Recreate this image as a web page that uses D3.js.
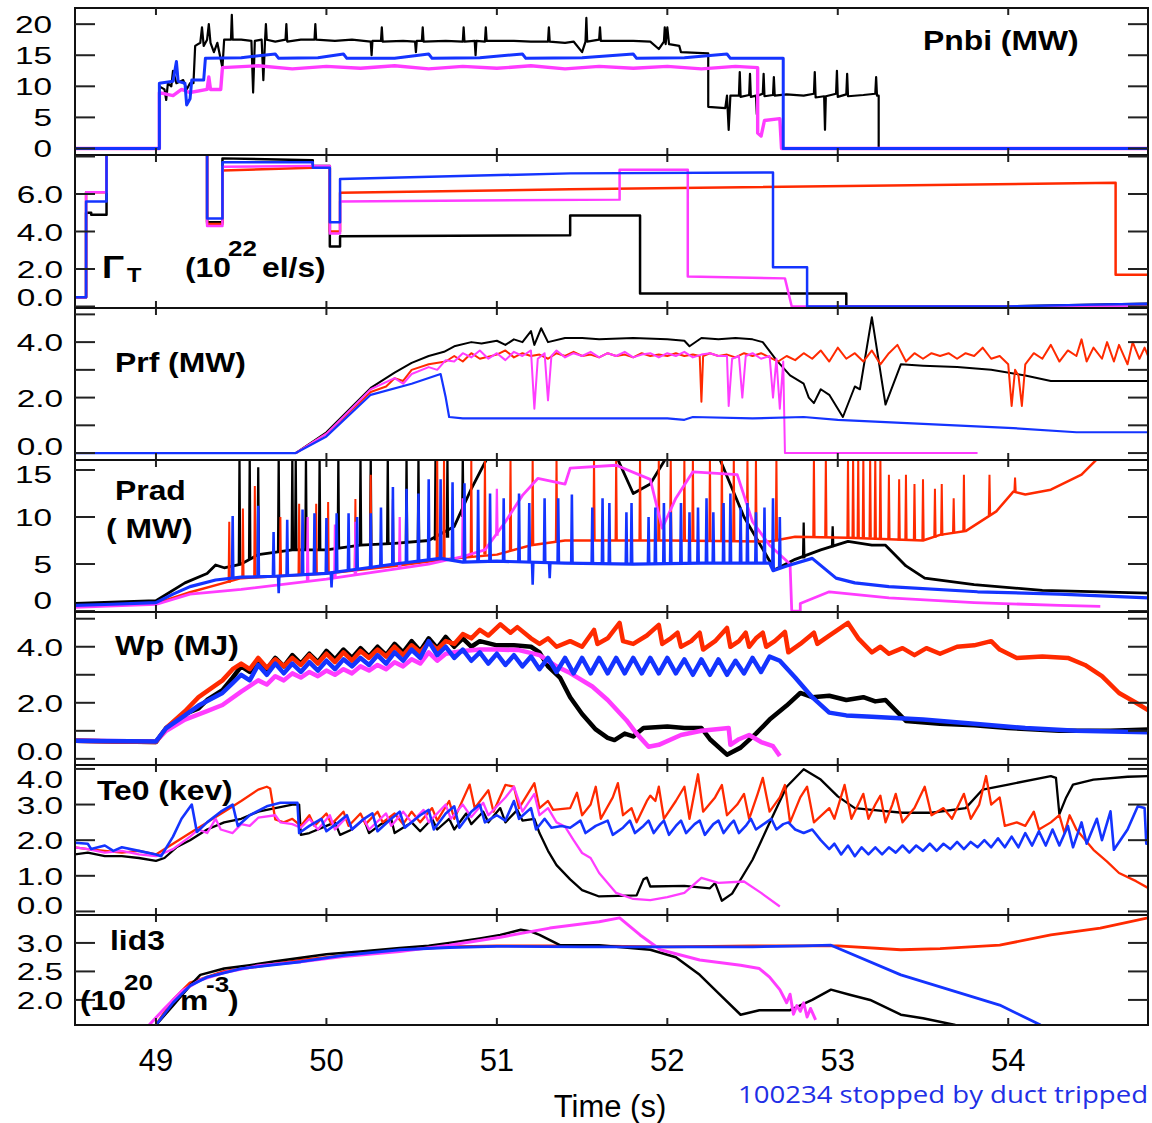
<!DOCTYPE html>
<html lang="en">
<head>
<meta charset="utf-8">
<title>Discharge comparison</title>
<script src="https://cdn.jsdelivr.net/npm/d3@7"></script>
<style>
  body { margin: 0; background: #fff; }
  text { font-family: "Liberation Sans", Arial, sans-serif; fill: #000; }
</style>
</head>
<body>
<script>
// time axis
var timeTicks = [49, 50, 51, 52, 53, 54];

// ---- Pnbi (MW)
var pnbiBlack = [[48.52,0],[49.02,0],[49.02,10],[49.05,9.5],[49.06,7.8],[49.07,10.5],[49.09,10],[49.1,12.5],[49.12,10.5],[49.16,11],[49.18,9.5],[49.2,10.5],[49.22,10.5],[49.23,16.5],[49.26,17],[49.27,19.5],[49.28,16.5],[49.3,17.5],[49.31,20],[49.32,17],[49.34,15.5],[49.36,17],[49.39,13],[49.4,17.5],[49.44,17.5],[49.445,21.5],[49.45,17.5],[49.5,17.5],[49.56,17.3],[49.57,9],[49.58,17.3],[49.62,17.5],[49.63,11],[49.64,17.5],[49.645,20],[49.65,17.5],[49.7,17.2],[49.76,17.5],[49.765,20],[49.77,17.2],[49.85,17.5],[49.93,17.5],[49.935,20],[49.94,17.5],[50.05,17.3],[50.15,17.5],[50.26,17.2],[50.265,15],[50.27,17.3],[50.32,17.3],[50.325,19.5],[50.33,17.2],[50.45,17.3],[50.52,17.2],[50.525,15.5],[50.53,17.3],[50.56,17.3],[50.565,19.5],[50.57,17.2],[50.7,17.3],[50.8,17.2],[50.805,19.5],[50.81,17.2],[50.87,17.3],[50.875,15],[50.88,17.3],[50.93,17.2],[50.935,19.5],[50.94,17.3],[51.1,17.3],[51.2,17.2],[51.3,17.2],[51.305,19.5],[51.31,17.2],[51.4,17],[51.45,17.2],[51.5,15.5],[51.52,17.2],[51.525,21],[51.53,17.2],[51.6,17.5],[51.605,19.5],[51.61,17.3],[51.7,17.3],[51.8,17.3],[51.9,17.2],[51.95,16],[51.98,17.2],[51.985,19.5],[51.99,16.8],[52.0,19.5],[52.01,16.8],[52.07,16.5],[52.08,15.5],[52.24,15.3],[52.24,6.7],[52.34,6.5],[52.35,8.5],[52.36,3],[52.37,8.5],[52.42,8.5],[52.425,12.3],[52.43,8.3],[52.48,8.6],[52.485,12],[52.49,8.3],[52.52,8.5],[52.525,5.5],[52.53,8.5],[52.56,8.8],[52.565,12],[52.57,8.4],[52.62,8.6],[52.625,11.5],[52.63,8.5],[52.7,8.7],[52.8,8.5],[52.86,8.8],[52.865,12.3],[52.87,8.2],[52.92,8.4],[52.925,3],[52.93,8.4],[52.99,8.8],[52.995,12.5],[53.0,8.3],[53.05,8.7],[53.055,12],[53.06,8.4],[53.15,8.6],[53.22,8.8],[53.225,11.5],[53.23,8.5],[53.24,8.5],[53.24,0],[54.82,0]];
var pnbiMagenta = [[48.52,0],[49.02,0],[49.02,9],[49.1,8.5],[49.15,9.5],[49.2,9],[49.3,9.5],[49.31,11.5],[49.32,9.5],[49.38,9.5],[49.39,13],[49.6,13.3],[49.8,12.8],[50.0,13.2],[50.2,12.9],[50.4,13.3],[50.6,12.8],[50.8,13.2],[51.0,12.9],[51.2,13.3],[51.4,12.8],[51.6,13.2],[51.8,12.9],[52.0,13.2],[52.2,12.8],[52.4,13.2],[52.53,13],[52.53,2.5],[52.55,2],[52.57,4.5],[52.66,4.8],[52.67,0],[54.82,0]];
var pnbiBlue = [[48.52,0],[49.02,0],[49.02,10.5],[49.1,10.8],[49.12,14],[49.13,10.8],[49.17,10.5],[49.18,7],[49.2,8],[49.21,11],[49.28,11],[49.29,14.5],[49.5,14.6],[49.7,15.2],[49.72,14.5],[49.95,14.6],[50.1,15.2],[50.12,14.5],[50.4,14.5],[50.6,15.2],[50.62,14.5],[50.9,14.6],[51.15,15.2],[51.17,14.5],[51.5,14.6],[51.8,15.2],[51.82,14.5],[52.1,14.6],[52.35,15.2],[52.37,14.5],[52.68,14.5],[52.68,0],[54.82,0]];

// ---- Gamma_T (1e22 el/s)
var gamBlack = [[48.52,0.5],[48.59,0.5],[48.59,5.0],[48.62,5.0],[48.62,4.9],[48.71,4.9],[48.71,8.6],[49.3,8.6],[49.3,4.5],[49.39,4.5],[49.39,7.9],[49.92,7.8],[49.92,7.5],[50.02,7.5],[50.02,3.2],[50.08,3.2],[50.08,3.75],[51.43,3.8],[51.43,4.85],[51.84,4.85],[51.84,0.7],[53.05,0.7],[53.05,0],[54.0,0],[54.82,0.15]];
var gamRed = [[48.52,0.5],[48.59,0.5],[48.59,6.1],[48.71,6.1],[48.71,8.6],[49.3,8.6],[49.3,4.4],[49.39,4.4],[49.39,7.25],[49.92,7.4],[50.02,7.4],[50.02,4.0],[50.08,4.0],[50.08,6.07],[51.43,6.25],[54.63,6.6],[54.63,1.7],[54.82,1.7]];
var gamMagenta = [[48.52,0.5],[48.59,0.5],[48.59,6.1],[48.71,6.1],[48.71,8.6],[49.3,8.6],[49.3,4.3],[49.39,4.3],[49.39,7.45],[49.92,7.5],[50.02,7.5],[50.02,3.9],[50.08,3.9],[50.08,5.6],[51.72,5.7],[51.72,7.3],[52.12,7.3],[52.12,1.6],[52.69,1.5],[52.73,0],[54.82,0]];
var gamBlue = [[48.52,0.5],[48.59,0.5],[48.59,5.6],[48.71,5.6],[48.71,8.6],[49.3,8.6],[49.3,4.7],[49.39,4.7],[49.39,7.7],[49.92,7.7],[49.92,7.4],[50.02,7.4],[50.02,4.5],[50.08,4.5],[50.08,6.8],[51.43,7.1],[52.62,7.15],[52.62,2.1],[52.82,2.1],[52.82,0],[54.0,0],[54.5,0.1],[54.82,0.15]];

// ---- Prf (MW)
var prfBlack = [[48.52,0],[49.82,0],[50.0,0.75],[50.26,2.35],[50.4,2.9],[50.5,3.25],[50.6,3.5],[50.69,3.65],[50.75,3.85],[50.85,4.0],[50.91,3.95],[51.0,4.05],[51.05,3.9],[51.1,4.1],[51.15,4.0],[51.2,4.4],[51.22,3.9],[51.26,4.5],[51.3,4.0],[51.4,4.15],[51.5,4.15],[51.6,4.1],[51.8,4.15],[52.0,4.1],[52.1,4.05],[52.13,3.85],[52.2,4.15],[52.3,4.1],[52.4,4.15],[52.5,4.1],[52.56,4.0],[52.64,3.35],[52.72,2.8],[52.8,2.5],[52.83,2.0],[52.86,1.8],[52.9,2.3],[52.95,2.1],[53.03,1.3],[53.1,2.4],[53.13,2.3],[53.2,4.9],[53.28,1.75],[53.37,3.2],[53.5,3.15],[53.7,3.1],[53.9,3.0],[54.1,2.8],[54.25,2.6],[54.5,2.6],[54.82,2.6]];
var prfRed = [[48.52,0],[49.82,0],[50.0,0.7],[50.26,2.2],[50.35,2.4],[50.4,2.7],[50.45,2.6],[50.5,3.0],[50.6,3.2],[50.7,3.3],[50.75,3.5],[50.8,3.3],[50.85,3.6],[50.9,3.4],[51.0,3.55],[51.05,3.7],[51.1,3.45],[51.15,3.6],[51.2,3.5],[51.25,3.55],[51.3,3.4],[51.35,3.6],[51.4,3.5],[51.45,3.65],[51.5,3.5],[51.55,3.55],[51.6,3.45],[51.65,3.6],[51.7,3.5],[51.75,3.55],[51.8,3.45],[51.85,3.6],[51.9,3.5],[51.95,3.55],[52.0,3.5],[52.05,3.6],[52.1,3.5],[52.15,3.55],[52.19,3.5],[52.2,1.85],[52.21,3.5],[52.25,3.6],[52.3,3.5],[52.35,3.55],[52.4,3.45],[52.45,3.6],[52.5,3.5],[52.55,3.6],[52.6,3.45],[52.65,3.3],[52.7,3.5],[52.75,3.35],[52.8,3.6],[52.85,3.4],[52.9,3.7],[52.95,3.3],[53.0,3.8],[53.05,3.4],[53.1,3.6],[53.15,3.3],[53.2,3.7],[53.25,3.2],[53.3,3.6],[53.35,3.9],[53.4,3.3],[53.45,3.6],[53.5,3.4],[53.55,3.6],[53.6,3.5],[53.65,3.6],[53.7,3.4],[53.75,3.6],[53.8,3.5],[53.85,3.8],[53.9,3.4],[53.95,3.5],[54.0,3.2],[54.02,1.7],[54.04,3.0],[54.06,2.8],[54.08,1.7],[54.1,3.2],[54.15,3.6],[54.2,3.4],[54.25,3.9],[54.3,3.3],[54.35,3.7],[54.4,3.5],[54.43,4.1],[54.46,3.3],[54.5,3.8],[54.55,3.4],[54.58,4.0],[54.62,3.3],[54.65,3.9],[54.7,3.2],[54.73,4.0],[54.77,3.4],[54.8,3.8],[54.82,3.5]];
var prfMagenta = [[48.52,0],[49.82,0],[50.0,0.7],[50.26,2.3],[50.4,2.7],[50.45,2.5],[50.5,2.85],[50.6,3.1],[50.65,3.0],[50.7,3.35],[50.75,3.3],[50.8,3.6],[50.85,3.45],[50.9,3.7],[50.95,3.4],[51.0,3.6],[51.05,3.35],[51.1,3.65],[51.15,3.5],[51.2,3.7],[51.22,1.6],[51.24,3.4],[51.28,3.6],[51.3,1.9],[51.32,3.5],[51.35,3.7],[51.4,3.45],[51.45,3.6],[51.5,3.5],[51.55,3.65],[51.6,3.45],[51.65,3.6],[51.7,3.5],[51.75,3.65],[51.8,3.45],[51.85,3.55],[51.9,3.6],[51.95,3.45],[52.0,3.6],[52.05,3.5],[52.1,3.65],[52.15,3.45],[52.2,3.55],[52.25,3.6],[52.3,3.5],[52.35,3.5],[52.36,1.7],[52.38,3.4],[52.42,3.5],[52.44,2.0],[52.46,3.5],[52.5,3.6],[52.55,3.4],[52.6,3.5],[52.62,2.0],[52.64,3.4],[52.66,1.6],[52.68,3.3],[52.69,0],[53.82,0]];
var prfBlue = [[48.52,0],[49.82,0],[50.0,0.6],[50.26,2.1],[50.5,2.5],[50.67,2.85],[50.7,2.0],[50.72,1.3],[50.8,1.25],[51.5,1.25],[52.0,1.25],[52.1,1.2],[52.15,1.3],[52.5,1.25],[52.8,1.3],[53.0,1.2],[53.5,1.05],[54.03,0.9],[54.4,0.75],[54.82,0.75]];

// ---- Prad (MW): baselines plus ELM spikes [t, base, peak]
var pradBlack = [[48.52,0.8],[49.0,1.1],[49.17,3.0],[49.3,4.0],[49.35,4.9],[49.4,4.6],[49.5,5.0],[49.6,6.0],[49.8,6.5],[50.0,6.5],[50.2,7.0],[50.4,7.2],[50.6,7.5],[50.75,9.0],[50.85,13],[50.95,16.5],[51.4,16.5],[51.7,16.5],[51.8,12.5],[51.9,13.5],[52.0,16.5],[52.3,16.5],[52.45,10],[52.63,4.4],[52.75,5.5],[52.9,6.5],[53.06,7.4],[53.2,7.0],[53.28,7.0],[53.4,4.8],[53.51,3.5],[53.8,2.8],[54.2,2.2],[54.82,1.9]];
var pradRed = [[48.52,0.5],[49.0,0.8],[49.2,2.0],[49.4,3.0],[49.5,3.5],[50.0,4.0],[50.4,4.8],[50.7,5.5],[51.0,6.0],[51.2,7.0],[51.4,7.5],[52.0,7.5],[52.6,7.4],[52.75,7.9],[53.06,7.8],[53.5,7.5],[53.6,8.1],[53.75,8.5],[53.93,10.6],[54.03,12.7],[54.1,12.4],[54.25,12.9],[54.43,14.5],[54.54,16.5],[54.82,16.5]];
var pradMagenta = [[48.52,0.4],[49.0,0.7],[49.2,1.8],[49.5,2.3],[50.0,3.4],[50.3,4.2],[50.6,5.0],[50.8,5.8],[50.93,6.5],[51.05,9.5],[51.15,12.3],[51.24,14.1],[51.4,13.5],[51.43,15.2],[51.7,15.5],[51.9,14],[51.97,8.8],[52.05,12],[52.15,14.8],[52.41,14.5],[52.5,9.5],[52.6,7.0],[52.72,5.0],[52.73,0],[52.78,0],[52.78,0.8],[52.95,2.05],[53.3,1.4],[53.8,0.9],[54.3,0.6],[54.54,0.5]];
var pradBlue = [[48.52,0.6],[48.7,0.7],[49.0,0.9],[49.1,1.8],[49.2,2.6],[49.35,3.3],[49.5,3.6],[49.7,3.7],[50.0,4.0],[50.2,4.5],[50.4,5.0],[50.67,5.6],[50.8,5.2],[51.0,5.3],[51.4,5.1],[51.8,5.0],[52.2,5.1],[52.6,5.1],[52.62,4.3],[52.7,4.8],[52.85,5.6],[52.99,3.5],[53.1,3.0],[53.3,2.6],[53.82,2.05],[54.3,1.8],[54.82,1.4]];
var spikesBlack = [[49.49,5.0,16.5],[49.55,5.5,16.5],[49.6,6.0,15.3],[49.72,6.3,16.5],[49.8,6.5,16.5],[49.82,6.5,16.5],[49.88,6.5,16.5],[49.96,6.5,16.5],[50.07,6.6,16.5],[50.2,7.0,16.5],[50.26,7.0,16.5],[50.36,7.1,16.5],[50.47,7.2,16.5],[50.54,7.3,16.5],[50.64,7.5,16.5],[50.71,7.8,16.5],[50.8,10,16.5],[52.8,5.6,9.4],[52.97,6.8,9.0]];
var spikesRed = [[49.43,3.0,9.5],[49.51,3.5,10.9],[49.58,3.6,13.3],[49.73,3.7,10],[49.84,3.8,11.4],[49.94,3.9,11.4],[50.01,4.0,11.6],[50.17,4.3,11.9],[50.26,4.5,14.5],[50.39,4.8,11.9],[50.65,5.4,16.5],[50.69,5.5,16.5],[50.85,5.8,16.5],[50.93,6.0,16.5],[51.08,6.5,16.5],[51.21,7.0,16.5],[51.35,7.4,16.5],[51.57,7.5,16.5],[51.7,7.5,16.5],[51.84,7.5,16.5],[51.95,7.5,16.5],[52.02,7.5,16.5],[52.1,7.5,16.5],[52.15,7.5,16.5],[52.25,7.5,16.5],[52.32,7.5,16.5],[52.39,7.5,16.5],[52.47,7.5,16.5],[52.52,7.5,16.5],[52.64,7.4,16.5],[52.86,7.9,16.5],[52.93,7.9,16.5],[53.06,7.8,16.5],[53.09,7.8,16.5],[53.12,7.8,16.5],[53.15,7.8,16.5],[53.19,7.8,16.5],[53.22,7.7,16.5],[53.25,7.7,16.5],[53.3,7.6,14.5],[53.36,7.5,14.0],[53.4,7.5,14.5],[53.45,7.5,13.5],[53.5,7.5,14.0],[53.57,7.8,13.0],[53.61,8.0,13.5],[53.68,8.3,12.0],[53.74,8.4,14.5],[53.89,10.2,14.5],[54.04,12.7,14.2]];
var spikesMagenta = [[49.89,3.2,10],[50.05,3.4,9.2],[50.17,3.8,9.5],[50.43,4.5,10],[50.8,5.8,12],[51.0,8,13]];
var spikesBlue = [[49.45,3.4,10.1],[49.6,3.6,11.2],[49.69,3.7,8.4],[49.72,3.7,1.9],[49.77,3.8,9.7],[49.86,3.9,10.8],[49.93,4.0,10.4],[50.0,4.0,9.9],[50.03,4.0,2.5],[50.06,4.1,10.4],[50.13,4.3,10.4],[50.18,4.4,10.0],[50.26,4.5,10.4],[50.32,4.7,11.0],[50.39,4.8,13.2],[50.47,5.0,13.0],[50.54,5.2,12.5],[50.6,5.4,14.0],[50.67,5.6,14.0],[50.74,5.4,13.7],[50.81,5.2,13.6],[50.89,5.2,12.9],[50.96,5.2,12.5],[51.04,5.3,12.0],[51.13,5.3,12.5],[51.19,5.2,11.5],[51.21,5.2,2.8],[51.28,5.2,12.0],[51.31,5.2,3.5],[51.36,5.1,12.0],[51.44,5.1,12.4],[51.56,5.1,11.0],[51.62,5.0,12.0],[51.66,5.0,11.5],[51.76,5.0,10.5],[51.79,5.0,11.5],[51.89,5.0,10.0],[51.93,5.0,11.0],[51.98,5.1,11.5],[52.02,5.1,10.5],[52.08,5.1,11.5],[52.13,5.1,10.5],[52.18,5.1,11.0],[52.23,5.1,12.0],[52.27,5.1,10.5],[52.33,5.1,11.5],[52.37,5.1,12.5],[52.43,5.1,11.0],[52.47,5.1,11.5],[52.52,5.1,10.5],[52.57,5.1,11.0],[52.62,4.5,12.0],[52.66,4.7,10.0]];

// ---- Wp (MJ)
var wpBlack = [[48.52,0.65],[48.76,0.62],[49.0,0.6],[49.06,1.1],[49.17,1.6],[49.25,1.8],[49.3,2.1],[49.39,2.45],[49.45,2.9],[49.5,3.3],[49.55,3.1],[49.6,3.5],[49.65,3.2],[49.7,3.6],[49.75,3.3],[49.8,3.7],[49.85,3.4],[49.9,3.75],[49.95,3.45],[50.0,3.85],[50.05,3.55],[50.1,3.9],[50.15,3.6],[50.2,3.95],[50.25,3.65],[50.3,4.0],[50.35,3.7],[50.4,4.1],[50.45,3.8],[50.5,4.2],[50.55,3.85],[50.6,4.3],[50.65,3.95],[50.7,4.35],[50.75,4.0],[50.8,4.3],[50.85,4.0],[50.9,4.2],[51.0,4.05],[51.1,4.05],[51.2,4.0],[51.25,3.8],[51.3,3.3],[51.37,2.9],[51.43,2.2],[51.5,1.6],[51.58,1.05],[51.65,0.75],[51.69,0.67],[51.75,0.9],[51.8,0.8],[51.86,1.1],[52.0,1.15],[52.1,1.1],[52.2,1.1],[52.25,0.7],[52.35,0.15],[52.43,0.4],[52.52,0.9],[52.6,1.4],[52.7,1.9],[52.78,2.35],[52.85,2.2],[52.95,2.25],[53.05,2.1],[53.15,2.2],[53.22,2.05],[53.28,2.1],[53.4,1.35],[53.6,1.25],[53.8,1.2],[54.0,1.1],[54.3,1.0],[54.6,1.0],[54.82,1.05]];
var wpRed = [[48.52,0.65],[49.0,0.6],[49.06,1.1],[49.17,1.7],[49.25,2.2],[49.39,2.8],[49.45,3.2],[49.5,3.4],[49.55,3.2],[49.6,3.6],[49.65,3.25],[49.7,3.55],[49.75,3.3],[49.8,3.6],[49.85,3.35],[49.9,3.7],[49.95,3.4],[50.0,3.75],[50.05,3.45],[50.1,3.8],[50.15,3.5],[50.2,3.85],[50.25,3.6],[50.3,3.9],[50.35,3.65],[50.4,4.0],[50.45,3.7],[50.5,4.05],[50.55,3.8],[50.6,4.15],[50.65,3.9],[50.7,4.2],[50.75,4.1],[50.8,4.45],[50.85,4.3],[50.9,4.6],[50.95,4.4],[51.02,4.8],[51.08,4.5],[51.12,4.7],[51.2,4.3],[51.25,4.1],[51.3,4.3],[51.35,4.0],[51.43,4.2],[51.5,4.0],[51.57,4.6],[51.59,4.1],[51.65,4.3],[51.72,4.85],[51.74,4.2],[51.8,4.1],[51.88,4.4],[51.95,4.78],[51.97,4.1],[52.02,4.3],[52.06,4.5],[52.08,4.0],[52.14,4.2],[52.19,4.5],[52.21,3.9],[52.28,4.2],[52.35,4.67],[52.37,4.0],[52.42,4.2],[52.46,4.5],[52.48,4.0],[52.52,4.3],[52.56,4.5],[52.58,4.0],[52.63,4.2],[52.69,4.53],[52.71,3.8],[52.78,4.1],[52.86,4.5],[52.88,4.1],[52.95,4.4],[53.06,4.85],[53.12,4.3],[53.2,3.8],[53.25,4.0],[53.3,3.75],[53.38,3.95],[53.45,3.7],[53.52,3.95],[53.6,3.75],[53.7,4.0],[53.8,4.05],[53.9,4.2],[53.95,3.9],[54.05,3.6],[54.2,3.65],[54.35,3.6],[54.45,3.35],[54.55,2.95],[54.65,2.35],[54.75,2.0],[54.82,1.74]];
var wpMagenta = [[48.52,0.65],[49.0,0.62],[49.06,1.0],[49.17,1.4],[49.3,1.7],[49.39,1.92],[49.5,2.4],[49.6,2.8],[49.65,2.65],[49.7,2.95],[49.75,2.8],[49.8,3.05],[49.85,2.9],[49.9,3.1],[49.95,2.95],[50.0,3.15],[50.05,3.0],[50.1,3.2],[50.15,3.05],[50.2,3.3],[50.25,3.15],[50.3,3.35],[50.35,3.2],[50.4,3.45],[50.45,3.3],[50.5,3.55],[50.55,3.4],[50.6,3.8],[50.65,3.5],[50.7,3.75],[50.8,3.85],[50.9,3.9],[51.0,3.9],[51.13,3.88],[51.25,3.7],[51.35,3.3],[51.43,3.06],[51.56,2.58],[51.65,2.1],[51.76,1.38],[51.82,0.9],[51.89,0.43],[51.95,0.5],[52.08,0.85],[52.2,1.0],[52.36,1.1],[52.37,0.5],[52.42,0.7],[52.48,0.85],[52.55,0.6],[52.62,0.45],[52.66,0.1]];
var wpBlue = [[48.52,0.65],[49.0,0.62],[49.06,1.1],[49.17,1.55],[49.25,1.9],[49.39,2.35],[49.45,2.7],[49.5,3.0],[49.55,2.8],[49.6,3.35],[49.65,3.0],[49.7,3.4],[49.75,3.05],[49.8,3.4],[49.85,3.1],[49.9,3.45],[49.95,3.15],[50.0,3.5],[50.05,3.2],[50.1,3.55],[50.15,3.3],[50.2,3.6],[50.25,3.35],[50.3,3.7],[50.35,3.4],[50.4,3.8],[50.45,3.5],[50.5,3.9],[50.55,3.6],[50.6,4.2],[50.65,3.7],[50.7,4.0],[50.75,3.6],[50.8,3.9],[50.85,3.5],[50.9,3.8],[50.95,3.4],[51.0,3.75],[51.05,3.35],[51.1,3.7],[51.15,3.3],[51.2,3.65],[51.25,3.2],[51.3,3.6],[51.35,3.1],[51.4,3.6],[51.45,3.05],[51.5,3.6],[51.55,3.05],[51.6,3.6],[51.65,3.05],[51.7,3.6],[51.75,3.05],[51.8,3.6],[51.85,3.05],[51.9,3.6],[51.95,3.05],[52.0,3.6],[52.05,3.05],[52.1,3.55],[52.15,3.0],[52.2,3.55],[52.25,3.0],[52.3,3.55],[52.35,3.0],[52.4,3.5],[52.45,3.05],[52.5,3.6],[52.55,3.1],[52.6,3.65],[52.66,3.5],[52.75,2.9],[52.85,2.2],[52.95,1.65],[53.05,1.55],[53.2,1.5],[53.5,1.4],[53.8,1.25],[54.1,1.1],[54.4,1.0],[54.82,0.95]];

// ---- Te0 (keV)
var teBlack = [[48.52,1.6],[48.6,1.65],[48.7,1.55],[48.8,1.55],[48.9,1.5],[49.0,1.42],[49.05,1.5],[49.12,1.8],[49.2,2.0],[49.3,2.3],[49.4,2.5],[49.5,2.6],[49.6,2.8],[49.7,2.9],[49.8,3.0],[49.84,3.0],[49.85,2.15],[49.9,2.2],[50.0,2.4],[50.05,2.5],[50.08,2.15],[50.15,2.3],[50.22,2.6],[50.25,2.2],[50.32,2.45],[50.38,2.6],[50.4,2.2],[50.5,2.5],[50.55,2.25],[50.62,2.6],[50.65,2.3],[50.72,2.6],[50.75,2.3],[50.82,2.75],[50.85,2.45],[50.92,2.8],[50.95,2.5],[51.02,2.9],[51.05,2.5],[51.12,2.85],[51.15,2.55],[51.22,2.6],[51.25,2.2],[51.3,1.7],[51.35,1.3],[51.43,0.9],[51.5,0.6],[51.6,0.42],[51.82,0.45],[51.86,0.9],[51.88,0.95],[51.9,0.7],[52.1,0.72],[52.25,0.65],[52.28,0.8],[52.32,0.3],[52.38,0.5],[52.5,1.45],[52.6,2.49],[52.7,3.5],[52.8,3.99],[52.9,3.7],[53.0,3.23],[53.1,2.9],[53.2,2.85],[53.38,2.77],[53.55,2.77],[53.75,2.9],[53.85,3.42],[54.0,3.56],[54.25,3.8],[54.28,3.75],[54.3,2.73],[54.34,3.2],[54.38,3.56],[54.5,3.7],[54.7,3.78],[54.82,3.8]];
var teRed = [[48.52,1.8],[48.6,1.75],[48.7,1.7],[48.8,1.65],[48.9,1.7],[49.0,1.6],[49.1,1.9],[49.2,2.2],[49.3,2.5],[49.4,2.8],[49.5,3.1],[49.6,3.42],[49.65,3.5],[49.67,3.45],[49.7,2.58],[49.75,2.5],[49.8,2.6],[49.85,2.4],[49.9,2.7],[49.93,2.4],[50.0,2.75],[50.03,2.45],[50.1,2.8],[50.13,2.4],[50.2,2.75],[50.23,2.45],[50.3,2.8],[50.33,2.5],[50.4,2.75],[50.45,2.45],[50.5,2.8],[50.55,2.5],[50.62,2.9],[50.65,2.55],[50.72,3.1],[50.75,2.6],[50.84,3.56],[50.87,2.9],[50.95,3.4],[50.98,2.8],[51.05,3.55],[51.1,3.5],[51.13,2.9],[51.22,3.6],[51.25,2.9],[51.3,3.1],[51.33,2.85],[51.43,2.9],[51.47,3.33],[51.5,2.7],[51.55,3.0],[51.58,3.5],[51.61,2.6],[51.68,3.2],[51.71,3.6],[51.74,2.7],[51.79,2.9],[51.82,2.5],[51.88,3.1],[51.9,3.25],[51.93,3.1],[51.95,3.5],[51.98,2.6],[52.05,3.1],[52.1,3.5],[52.13,2.6],[52.18,3.85],[52.21,2.8],[52.28,3.2],[52.32,3.55],[52.35,2.7],[52.41,3.0],[52.45,3.3],[52.48,2.6],[52.53,3.3],[52.56,3.75],[52.6,2.8],[52.66,3.2],[52.69,3.55],[52.72,2.5],[52.78,3.2],[52.82,3.5],[52.86,2.5],[52.95,2.9],[52.98,2.6],[53.04,3.55],[53.08,2.6],[53.12,3.0],[53.15,3.3],[53.18,2.6],[53.22,3.0],[53.25,3.25],[53.28,2.5],[53.32,3.0],[53.34,3.3],[53.38,2.5],[53.45,2.9],[53.51,3.5],[53.55,2.7],[53.62,2.9],[53.67,2.6],[53.74,3.3],[53.78,2.6],[53.83,3.0],[53.87,3.8],[53.9,3.0],[53.95,3.2],[53.98,2.4],[54.05,2.5],[54.1,2.4],[54.15,2.8],[54.18,2.3],[54.25,2.5],[54.3,2.7],[54.33,2.2],[54.36,2.7],[54.4,2.3],[54.5,1.73],[54.58,1.4],[54.65,1.08],[54.75,0.85],[54.82,0.66]];
var teMagenta = [[48.52,1.8],[48.6,1.75],[48.7,1.65],[48.8,1.7],[48.9,1.6],[49.0,1.55],[49.1,1.75],[49.2,2.1],[49.25,2.3],[49.3,2.2],[49.35,2.6],[49.38,2.3],[49.45,2.2],[49.5,2.45],[49.55,2.4],[49.6,2.63],[49.7,2.7],[49.73,2.5],[49.8,2.45],[49.85,2.35],[49.9,2.6],[49.95,2.3],[50.02,2.7],[50.05,2.3],[50.12,2.65],[50.15,2.3],[50.22,2.6],[50.25,2.3],[50.35,2.75],[50.38,2.4],[50.45,2.8],[50.5,2.5],[50.57,2.85],[50.6,2.5],[50.7,3.0],[50.73,2.6],[50.8,3.0],[50.85,2.65],[50.92,3.05],[50.95,2.7],[51.05,3.2],[51.1,3.5],[51.15,2.8],[51.22,3.3],[51.25,2.7],[51.3,2.9],[51.35,2.5],[51.4,2.38],[51.45,2.0],[51.5,1.64],[51.55,1.5],[51.6,1.08],[51.65,0.8],[51.7,0.52],[51.8,0.35],[51.9,0.32],[52.0,0.4],[52.1,0.52],[52.2,0.94],[52.3,0.8],[52.45,0.84],[52.55,0.52],[52.66,0.14]];
var teBlue = [[48.52,1.93],[48.6,1.9],[48.62,1.75],[48.7,1.85],[48.75,1.7],[48.8,1.8],[48.9,1.7],[49.0,1.6],[49.03,1.55],[49.1,2.1],[49.15,2.6],[49.21,3.0],[49.24,2.23],[49.3,2.5],[49.38,2.8],[49.45,3.0],[49.48,2.4],[49.55,2.7],[49.65,2.95],[49.73,3.05],[49.83,3.05],[49.84,2.2],[49.9,2.4],[49.97,2.6],[50.0,2.25],[50.07,2.5],[50.12,2.7],[50.15,2.3],[50.22,2.6],[50.27,2.75],[50.3,2.25],[50.38,2.6],[50.43,2.8],[50.46,2.35],[50.55,2.7],[50.6,2.85],[50.63,2.3],[50.7,2.75],[50.75,2.95],[50.78,2.35],[50.85,2.8],[50.9,3.0],[50.93,2.5],[51.0,2.7],[51.05,2.55],[51.1,3.1],[51.13,2.6],[51.2,2.9],[51.23,2.3],[51.28,2.6],[51.32,2.35],[51.38,2.4],[51.43,2.35],[51.49,2.55],[51.52,2.2],[51.58,2.4],[51.65,2.55],[51.68,2.15],[51.74,2.35],[51.78,2.55],[51.81,2.2],[51.86,2.4],[51.89,2.55],[51.92,2.2],[51.96,2.45],[51.98,2.55],[52.01,2.15],[52.05,2.4],[52.08,2.55],[52.11,2.2],[52.16,2.45],[52.19,2.55],[52.22,2.15],[52.27,2.45],[52.3,2.55],[52.33,2.2],[52.37,2.45],[52.39,2.55],[52.42,2.2],[52.46,2.4],[52.49,2.6],[52.52,2.3],[52.58,2.5],[52.61,2.6],[52.64,2.3],[52.68,2.45],[52.71,2.5],[52.75,2.3],[52.8,2.2],[52.85,2.3],[52.9,2.0],[52.95,1.75],[52.98,1.9],[53.02,1.6],[53.06,1.85],[53.1,1.55],[53.14,1.8],[53.18,1.6],[53.22,1.8],[53.26,1.6],[53.3,1.8],[53.34,1.65],[53.38,1.85],[53.42,1.65],[53.46,1.85],[53.5,1.7],[53.54,1.9],[53.58,1.7],[53.62,1.9],[53.66,1.75],[53.7,1.95],[53.74,1.75],[53.78,1.95],[53.82,1.8],[53.86,2.0],[53.9,1.8],[53.94,2.05],[53.98,1.8],[54.02,2.1],[54.06,1.8],[54.1,2.2],[54.14,1.85],[54.18,2.25],[54.22,1.85],[54.26,2.3],[54.3,1.85],[54.35,2.4],[54.38,1.8],[54.43,2.5],[54.46,1.9],[54.52,2.6],[54.55,2.0],[54.6,2.81],[54.62,1.73],[54.7,2.3],[54.76,2.95],[54.8,2.9],[54.81,1.9],[54.82,1.9]];

// ---- lid3 (1e20 m^-3)
var lidRed = [[49.0,1.56],[49.1,2.0],[49.2,2.3],[49.4,2.5],[49.85,2.7],[50.43,2.88],[50.72,2.93],[51.0,2.95],[51.5,2.95],[52.0,2.93],[52.5,2.95],[53.0,2.95],[53.37,2.88],[53.6,2.9],[53.95,2.96],[54.25,3.14],[54.54,3.26],[54.82,3.44]];
var lidBlack = [[49.0,1.56],[49.1,1.9],[49.2,2.25],[49.26,2.44],[49.4,2.55],[49.55,2.61],[49.7,2.68],[49.85,2.74],[50.0,2.8],[50.2,2.85],[50.43,2.91],[50.6,2.95],[50.72,3.0],[50.9,3.08],[51.02,3.14],[51.14,3.23],[51.2,3.2],[51.25,3.14],[51.37,2.96],[51.6,2.96],[51.9,2.88],[52.05,2.75],[52.19,2.44],[52.31,2.09],[52.43,1.74],[52.54,1.82],[52.72,1.82],[52.85,2.0],[52.96,2.18],[53.07,2.09],[53.19,2.0],[53.37,1.74],[53.5,1.68],[53.69,1.56]];
var lidMagenta = [[48.96,1.56],[49.05,1.85],[49.15,2.15],[49.26,2.35],[49.4,2.48],[49.6,2.6],[49.85,2.67],[50.1,2.76],[50.43,2.85],[50.72,2.96],[51.02,3.1],[51.31,3.26],[51.6,3.37],[51.72,3.44],[51.84,3.14],[51.96,2.88],[52.19,2.7],[52.43,2.61],[52.54,2.55],[52.6,2.4],[52.66,2.18],[52.7,1.95],[52.72,2.1],[52.74,1.75],[52.76,1.9],[52.78,1.8],[52.8,1.95],[52.82,1.7],[52.84,1.85],[52.87,1.65]];
var lidBlue = [[49.0,1.56],[49.1,1.95],[49.2,2.25],[49.3,2.4],[49.5,2.55],[49.85,2.67],[50.1,2.78],[50.43,2.88],[50.72,2.92],[51.0,2.94],[51.5,2.93],[52.0,2.93],[52.5,2.93],[52.8,2.95],[52.96,2.96],[53.37,2.44],[53.95,1.91],[54.19,1.56]];

var K = "#000000", R = "#ff2a00", M = "#ff3cff", B = "#1434ff";

// pad: how far the top / bottom tick labels are kept inside their panel
var panels = [
  { top: 8, bottom: 155, pad: [12, 7], dom: [-1.05, 22.6], ticks: [0,5,10,15,20], labels: [0,5,10,15,20], fmt: d3.format("d"), lx: 52,
    series: [{d: pnbiBlack, c: K, w: 2.2}, {d: pnbiMagenta, c: M, w: 3.4}, {d: pnbiBlue, c: B, w: 3}] },
  { top: 155, bottom: 308, pad: [12, 11], dom: [-0.08, 8.08], ticks: [0,2,4,6,8], labels: [0,2,4,6], fmt: d3.format(".1f"), lx: 63,
    series: [{d: gamBlack, c: K, w: 2.5}, {d: gamRed, c: R, w: 2.5}, {d: gamMagenta, c: M, w: 2.5}, {d: gamBlue, c: B, w: 2.5}] },
  { top: 308, bottom: 460, pad: [12, 14], dom: [-0.25, 5.23], ticks: [0,1,2,3,4,5], labels: [0,2,4], fmt: d3.format(".1f"), lx: 63,
    series: [{d: prfBlack, c: K, w: 2}, {d: prfRed, c: R, w: 2}, {d: prfMagenta, c: M, w: 2}, {d: prfBlue, c: B, w: 2.2}] },
  { top: 460, bottom: 612, pad: [14, 12], dom: [-0.1, 16.06], ticks: [0,5,10,15], labels: [0,5,10,15], fmt: d3.format("d"), lx: 52,
    series: [{d: pradBlack, c: K, w: 2.8, s: spikesBlack}, {d: pradRed, c: R, w: 2.5, s: spikesRed},
             {d: pradMagenta, c: M, w: 2.8, s: spikesMagenta}, {d: pradBlue, c: B, w: 3.2, s: spikesBlue}] },
  { top: 612, bottom: 765, pad: [12, 14], dom: [-0.22, 5.24], ticks: [0,1,2,3,4,5], labels: [0,2,4], fmt: d3.format(".1f"), lx: 63,
    series: [{d: wpBlack, c: K, w: 4.5}, {d: wpMagenta, c: M, w: 4.5}, {d: wpRed, c: R, w: 4.5}, {d: wpBlue, c: B, w: 4.5}] },
  { top: 765, bottom: 915, pad: [14, 10], dom: [-0.1, 4.11], ticks: [0,1,2,3,4], labels: [0,1,2,3,4], fmt: d3.format(".1f"), lx: 63,
    series: [{d: teBlack, c: K, w: 2.3}, {d: teRed, c: R, w: 2.3}, {d: teMagenta, c: M, w: 2.3}, {d: teBlue, c: B, w: 2.6}] },
  { top: 915, bottom: 1025, pad: [12, 12], dom: [1.56, 3.49], ticks: [2,2.5,3], labels: [2,2.5,3], fmt: d3.format(".1f"), lx: 63,
    series: [{d: lidRed, c: R, w: 2.8}, {d: lidBlack, c: K, w: 2.5}, {d: lidMagenta, c: M, w: 3}, {d: lidBlue, c: B, w: 2.8}] }
];

var w = 1152, h = 1123;
var left = 75, right = 1148;

var svg = d3.select("body").append("svg")
    .attr("width", w)
    .attr("height", h);

var x = d3.scaleLinear().domain([48.525, 54.82]).range([left, right]);

// text drawn a bit wide, like the original figure
function label(g, px, py, str, size, weight, anchor, stretch) {
  return g.append("text")
    .attr("transform", "translate(" + px + "," + py + ") scale(" + (stretch || 1.18) + ",1)")
    .attr("font-size", size)
    .attr("font-weight", weight || "normal")
    .attr("text-anchor", anchor || "start")
    .text(str);
}

panels.forEach(function(p, i) {
  var y = d3.scaleLinear().domain(p.dom).range([p.bottom, p.top]);
  var g = svg.append("g");

  g.append("clipPath").attr("id", "clip" + i)
    .append("rect")
    .attr("x", left).attr("y", p.top)
    .attr("width", right - left).attr("height", p.bottom - p.top);

  var line = d3.line().x(function(d) { return x(d[0]); }).y(function(d) { return y(d[1]); });
  var plot = g.append("g").attr("clip-path", "url(#clip" + i + ")");

  p.series.forEach(function(s) {
    plot.append("path")
      .attr("d", line(s.d))
      .attr("fill", "none")
      .attr("stroke", s.c)
      .attr("stroke-width", s.w)
      .attr("stroke-linejoin", "round");
    if (s.s) {
      plot.selectAll(null).data(s.s).enter().append("path")
        .attr("d", function(d) { return line([[d[0] - 0.004, d[1]], [d[0], d[2]], [d[0] + 0.004, d[1]]]); })
        .attr("fill", "none")
        .attr("stroke", s.c)
        .attr("stroke-width", s.w * 0.8);
    }
  });

  // frame
  g.append("rect")
    .attr("x", left).attr("y", p.top)
    .attr("width", right - left).attr("height", p.bottom - p.top)
    .attr("fill", "none").attr("stroke", "#111").attr("stroke-width", 2);

  // y ticks both sides
  g.selectAll(null).data(p.ticks).enter().append("path")
    .attr("d", function(d) { return "M" + left + "," + y(d) + "h20"; })
    .attr("stroke", "#222").attr("stroke-width", 2);
  g.selectAll(null).data(p.ticks).enter().append("path")
    .attr("d", function(d) { return "M" + right + "," + y(d) + "h-20"; })
    .attr("stroke", "#222").attr("stroke-width", 2);

  // time ticks top and bottom
  g.selectAll(null).data(timeTicks).enter().append("path")
    .attr("d", function(d) { return "M" + x(d) + "," + p.top + "v7M" + x(d) + "," + p.bottom + "v-7"; })
    .attr("stroke", "#222").attr("stroke-width", 2);

  p.labels.forEach(function(v) {
    var ly = Math.max(p.top + p.pad[0], Math.min(p.bottom - p.pad[1], y(v)));
    label(g, p.lx, ly + 9, p.fmt(v), 24, "normal", "end", 1.39);
  });
});

// panel titles
var t = svg.append("g");
label(t, 923, 50, "Pnbi (MW)", 27, "bold");
label(t, 102, 278, "\u0393", 31, "bold");
label(t, 127, 282, "T", 20, "bold");
label(t, 185, 277, "(10", 27, "bold");
label(t, 228, 256, "22", 22, "bold");
label(t, 262, 277, "el/s)", 27, "bold");
label(t, 115, 372, "Prf (MW)", 27, "bold");
label(t, 115, 500, "Prad", 27, "bold");
label(t, 106, 538, "( MW)", 27, "bold");
label(t, 115, 655, "Wp (MJ)", 27, "bold");
label(t, 97, 800, "Te0 (kev)", 27, "bold");
label(t, 110, 950, "lid3", 27, "bold");
label(t, 80, 1010, "(10", 27, "bold");
label(t, 124, 990, "20", 22, "bold");
label(t, 180, 1010, "m", 27, "bold");
label(t, 206, 992, "-3", 22, "bold");
label(t, 228, 1010, ")", 27, "bold");

// time axis labels
svg.selectAll(null).data(timeTicks).enter().append("text")
  .attr("x", function(d) { return x(d); })
  .attr("y", 1071)
  .attr("text-anchor", "middle")
  .attr("font-size", 31)
  .text(function(d) { return d; });

svg.append("text")
  .attr("x", 610).attr("y", 1117)
  .attr("text-anchor", "middle")
  .attr("font-size", 31)
  .text("Time (s)");

svg.append("text")
  .attr("x", 738).attr("y", 1103)
  .attr("font-size", 24)
  .attr("textLength", 410)
  .attr("lengthAdjust", "spacingAndGlyphs")
  .style("font-family", "'Open Sans', sans-serif")
  .style("fill", "#1f2fe6")
  .text("100234 stopped by duct tripped");
</script>
</body>
</html>
